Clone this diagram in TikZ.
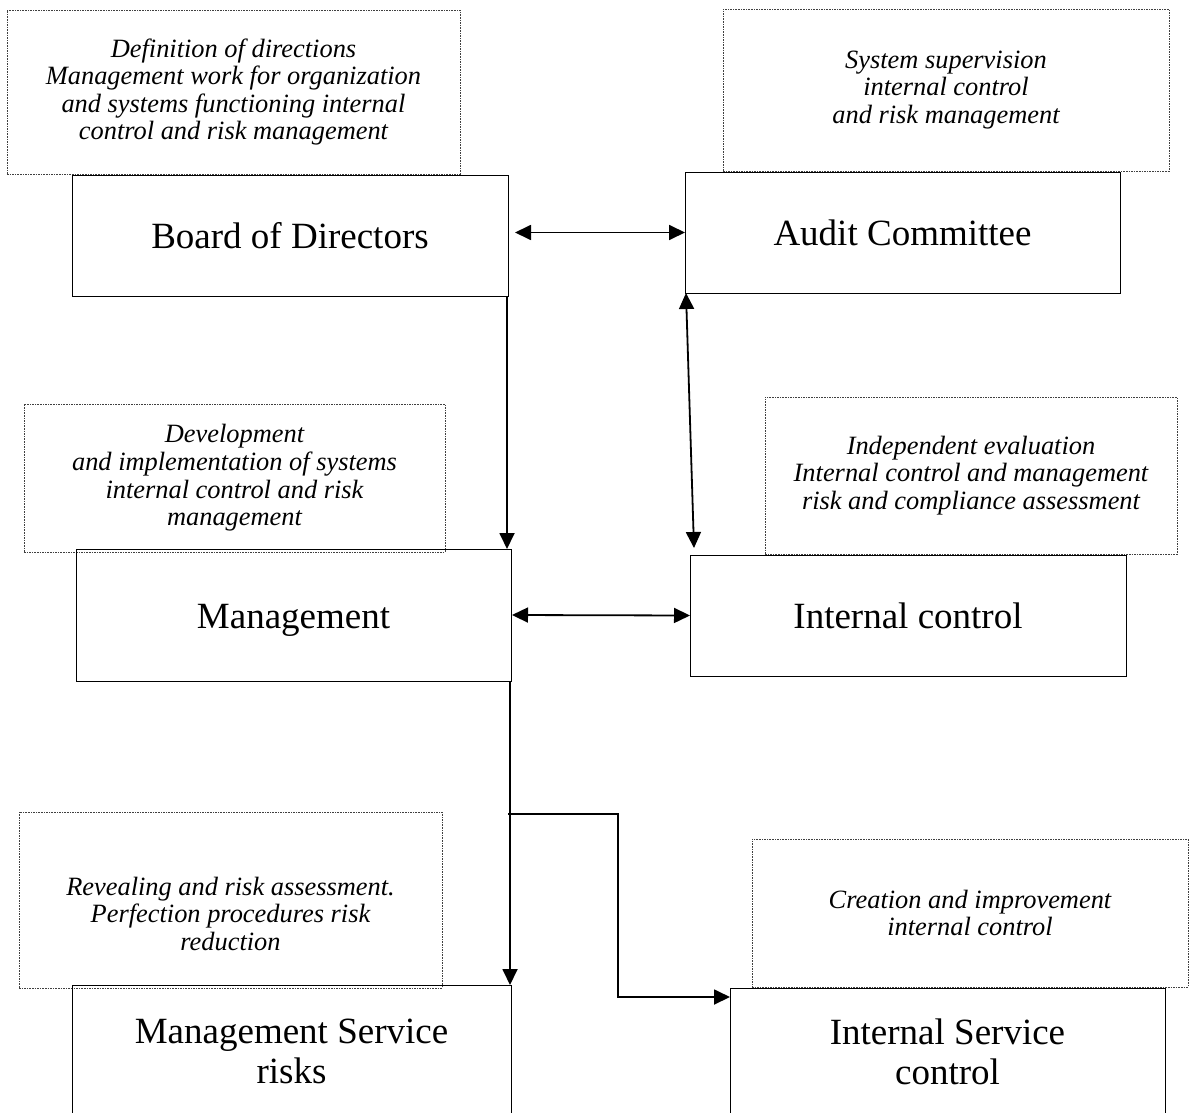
\documentclass[tikz,border=0pt]{standalone}
\usepackage{fontspec}
\setmainfont{Liberation Serif}
\usetikzlibrary{arrows.meta,calc}
\begin{document}
\begin{tikzpicture}[x=1pt,y=-1pt,
  box/.style={draw=black, line width=0.9pt, anchor=north west, inner sep=0pt, outer sep=0pt,
    align=center, font=\fontsize{37}{40}\selectfont},
  note/.style={draw=black!75, dash pattern=on 1.6pt off 1pt, line width=0.8pt, anchor=north west,
    inner sep=0pt, outer sep=0pt, align=center, font=\itshape\fontsize{26.4}{27.6}\selectfont},
  tip/.tip={Triangle[length=16pt,width=15pt]},
  arr/.style={line width=1.8pt, -tip},
  darr/.style={line width=1.8pt, tip-tip}]
\clip (0,0) rectangle (1196,1113);
% notes
\node[note, minimum width=453, minimum height=164] (n1) at (7,10)
  {Definition of directions\\Management work for organization\\and systems functioning internal\\control and risk management};
\node[note, minimum width=446, minimum height=162] (n2) at (723,9)
  {System supervision\\internal control\\and risk management};
\node[note, minimum width=421, minimum height=148] (n3) at (24,404)
  {Development\\and implementation of systems\\internal control and risk\\management};
\node[note, minimum width=412, minimum height=157] (n4) at (765,397)
  {Independent evaluation\\Internal control and management\\risk and compliance assessment};
\node[note, minimum width=423, minimum height=176] (n5) at (19,812)
  {\rule{0pt}{46pt}Revealing and risk assessment.\\Perfection procedures risk\\reduction};
\node[note, minimum width=436, minimum height=148] (n6) at (752,839)
  {Creation and improvement\\internal control};
% boxes
\node[box, minimum width=436, minimum height=121] (board) at (72,175) {Board of Directors};
\node[box, minimum width=435, minimum height=121] (audit) at (685,172) {Audit Committee};
\node[box, minimum width=435, minimum height=132] (mgmt) at (76,549) {\rule{0pt}{34pt}Management};
\node[box, minimum width=436, minimum height=121] (ic) at (690,555) {Internal control};
\node[box, minimum width=439, minimum height=132] (msr) at (72,985) {Management Service\\risks};
\node[box, minimum width=435, minimum height=128] (isc) at (730,988) {Internal Service\\control};
% connectors
\draw[darr] ($(board.east |- audit.west)+(7,0)$) -- (audit.west);
\draw[darr] ($(audit.south west)+(1,0)$) -- ($(ic.north west)+(4,-7)$);
\draw[arr] ($(board.south east)+(-1,0)$) -- ($(board.south east |- mgmt.north)+(-1,0)$);
\draw[darr] ($(mgmt.east)+(1,0)$) -- (ic.west);
\draw[arr] ($(mgmt.south east)+(-1,0)$) -- ($(msr.north east)+(-1,0)$);
\coordinate (br) at ($(mgmt.south east)+(-3,133)$);
\draw[arr] (br) -- ++(110,0) |- ($(isc.north west)+(0,9)$);
\end{tikzpicture}
\end{document}
